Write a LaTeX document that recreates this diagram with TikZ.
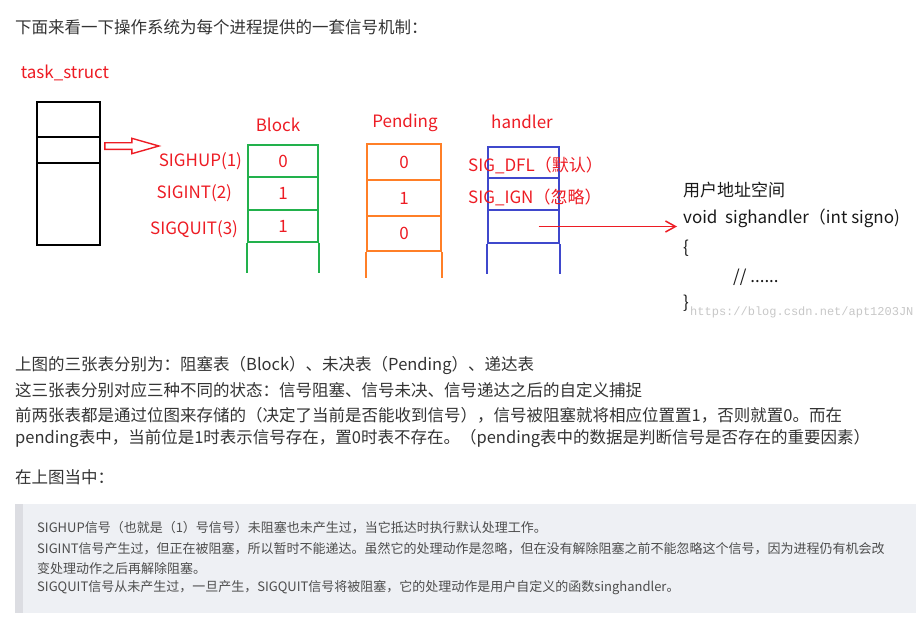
\documentclass[tikz,border=0pt]{standalone}
\usepackage{fontspec}
\usepackage{tikz}
\usetikzlibrary{arrows.meta, positioning, calc}
\newfontfamily\cjk{Noto Sans CJK SC}
\newfontfamily\wmfont{Liberation Mono}
\definecolor{paintred}{HTML}{ED1C24}
\definecolor{paintgreen}{HTML}{22B14C}
\definecolor{paintorange}{HTML}{FF7F27}
\definecolor{paintblue}{HTML}{3F48CC}
\definecolor{bodygray}{HTML}{333333}
\definecolor{quotegray}{HTML}{4D4D4D}
\definecolor{quotebg}{HTML}{EEF0F4}
\definecolor{quotebar}{HTML}{DCDDE2}

\begin{document}
\begin{tikzpicture}[x=1pt, y=-1pt,
        tsbox/.style={rectangle, draw=black, line width=1.7pt, minimum width=63pt, inner sep=0pt},
        cell/.style={rectangle, line width=1.7pt, minimum width=#1, inner sep=0pt, text=paintred, font=\cjk\fontsize{17}{17}\selectfont},
        bcell/.style={cell=70pt, draw=paintgreen},
        pcell/.style={cell=74pt, draw=paintorange},
        hcell/.style={cell=71pt, draw=paintblue},
        redlabel/.style={inner sep=0pt, text=paintred, font=\cjk\fontsize{17}{17}\selectfont},
        codeline/.style={inner sep=0pt, anchor=west, text=black!90, font=\cjk\fontsize{17}{17}\selectfont},
        bodyline/.style={inner sep=0pt, anchor=west, text=bodygray, font=\cjk\fontsize{16.5}{16.5}\selectfont},
        quoteline/.style={inner sep=0pt, anchor=west, text=quotegray, font=\cjk\fontsize{13}{13}\selectfont},
        hollowarrow/.style={draw=paintred, line width=1.4pt, line join=miter},
        redarrow/.style={-{Straight Barb[length=10pt, width=11pt]}, line width=1.5pt, paintred}
    ]
        \useasboundingbox (0,0) rectangle (916,637);

        % Heading
        \node[bodyline] (title) at (15,27) {下面来看一下操作系统为每个进程提供的一套信号机制：};

        % task_struct
        \node[redlabel] (tslabel) at (65,73) {task\_struct};
        \node[tsbox, minimum height=35pt] (ts1) at (68.5,119.5) {};
        \node[tsbox, minimum height=26pt] (ts2) at (68.5,150) {};
        \node[tsbox, minimum height=82pt] (ts3) at (68.5,204) {};

        % Block table
        \node[redlabel] (blocklbl) at (278,125) {Block};
        \node[bcell, minimum height=32pt] (b1) at (283,161) {0};
        \node[bcell, minimum height=33pt] (b2) at (283,193.5) {1};
        \node[bcell, minimum height=32pt] (b3) at (283,226) {1};
        \draw[paintgreen, line width=1.7pt] (b3.south west) -- ++(0,30);
        \draw[paintgreen, line width=1.7pt] (b3.south east) -- ++(0,30);

        % Pending table
        \node[redlabel] (pendlbl) at (405,123) {Pending};
        \node[pcell, minimum height=36pt] (p1) at (404,162) {0};
        \node[pcell, minimum height=36pt] (p2) at (404,198) {1};
        \node[pcell, minimum height=35pt] (p3) at (404,233.5) {0};
        \draw[paintorange, line width=1.7pt] (p3.south west) -- ++(0,26);
        \draw[paintorange, line width=1.7pt] (p3.south east) -- ++(0,26);

        % handler table
        \node[redlabel] (hdllbl) at (522,122) {handler};
        \node[hcell, minimum height=31pt] (h1) at (523.5,162.5) {};
        \node[hcell, minimum height=32pt] (h2) at (523.5,194) {};
        \node[hcell, minimum height=33pt] (h3) at (523.5,226.5) {};
        \draw[paintblue, line width=1.7pt] (h3.south west) -- ++(0,30);
        \draw[paintblue, line width=1.7pt] (h3.south east) -- ++(0,30);

        % signal names
        \node[redlabel, left=5pt of b1] (sighup) {SIGHUP(1)};
        \node[redlabel, left=15pt of b2] (sigint) {SIGINT(2)};
        \node[redlabel, left=9pt of b3, yshift=-3pt] (sigquit) {SIGQUIT(3)};
        \node[redlabel, anchor=west] (dfl) at (468,165) {SIG\_DFL（默认）};
        \node[redlabel, anchor=west] (ign) at (468,197) {SIG\_IGN（忽略）};

        % pointer from task_struct
        \draw[hollowarrow] ($(ts2.east)+(4,-7.3)$) -- ++(27,0) -- ++(0,-4.4) -- ++(27,7.7)
            -- ++(-27,7.7) -- ++(0,-4.4) -- ++(-27,0) -- cycle;

        % user space
        \node[codeline] (uspace) at (683,190) {用户地址空间};
        \node[codeline] (sighdr) at (683,218) {void\ \ sighandler（int signo)};
        \node[codeline] (lbrace) at (683,248) {\{};
        \node[codeline] (body) at (733,277) {// ......};
        \node[codeline] (rbrace) at (683,303) {\}};
        \node[inner sep=0pt, anchor=west, text=black!22, font=\wmfont\fontsize{12}{12}\selectfont] (wmark) at (690,312) {https://blog.csdn.net/apt1203JN};

        \draw[redarrow, shorten <=15pt, shorten >=6pt] (h3.center) -- (h3.center -| sighdr.west);

        % explanation
        \node[bodyline] (txt1) at (15,365) {上图的三张表分别为：阻塞表（Block）、未决表（Pending）、递达表};
        \node[bodyline] (txt2) at (15,390) {这三张表分别对应三种不同的状态：信号阻塞、信号未决、信号递达之后的自定义捕捉};
        \node[bodyline] (txt3) at (15,415) {前两张表都是通过位图来存储的（决定了当前是否能收到信号），信号被阻塞就将相应位置置1，否则就置0。而在};
        \node[bodyline] (txt4) at (15,438) {pending表中，当前位是1时表示信号存在，置0时表不存在。（pending表中的数据是判断信号是否存在的重要因素）};
        \node[bodyline] (txt5) at (15,477) {在上图当中：};

        % quote block
        \fill[quotebg] (15,504) rectangle (916,613);
        \fill[quotebar] (15,504) rectangle (23,613);
        \node[quoteline] (q1) at (37,528) {SIGHUP信号（也就是（1）号信号）未阻塞也未产生过，当它抵达时执行默认处理工作。};
        \node[quoteline] (q2) at (37,549) {SIGINT信号产生过，但正在被阻塞，所以暂时不能递达。虽然它的处理动作是忽略，但在没有解除阻塞之前不能忽略这个信号，因为进程仍有机会改};
        \node[quoteline] (q3) at (37,569) {变处理动作之后再解除阻塞。};
        \node[quoteline] (q4) at (37,588) {SIGQUIT信号从未产生过，一旦产生，SIGQUIT信号将被阻塞，它的处理动作是用户自定义的函数singhandler。};

    \end{tikzpicture}
\end{document}
